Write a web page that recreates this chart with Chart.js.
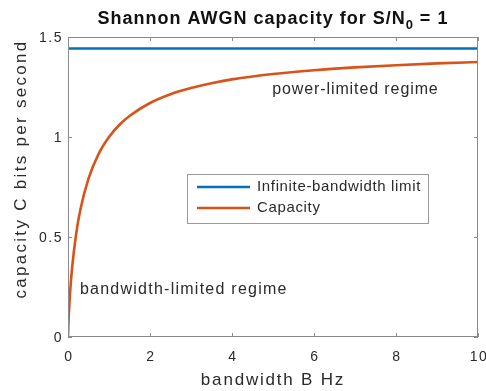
<!DOCTYPE html>
<html><head><meta charset="utf-8">
<script src="https://cdn.jsdelivr.net/npm/chart.js@4"></script>
<style>html,body{margin:0;padding:0;background:#fff;}#wrap{width:486px;height:391px;}</style>
</head><body><div id="wrap"><canvas id="c" width="486" height="391"></canvas></div>
<script>
const bandwidth = [0, 0.01, 0.02, 0.05, 0.1, 0.2, 0.3, 0.5, 0.75, 1, 1.25, 1.5, 2, 2.5, 3, 3.5, 4, 5, 6, 7, 8, 9, 10];
const capacity  = [0, 0.067, 0.113, 0.220, 0.346, 0.517, 0.635, 0.792, 0.917, 1.0, 1.060, 1.105, 1.170, 1.214, 1.245, 1.269, 1.288, 1.315, 1.334, 1.348, 1.359, 1.368, 1.375];
const limitX = [0, 10];
const limitY = [1.4427, 1.4427];
const xTicks = [0, 2, 4, 6, 8, 10];
const yTicks = [0, 0.5, 1, 1.5];
const xTickLabels = ['0', '2', '4', '6', '8', '10'];
const yTickLabels = ['0', '0.5', '1', '1.5'];
const seriesNames = ['Infinite-bandwidth limit', 'Capacity'];
const titleParts = ['Shannon AWGN capacity for S/N', '0', ' = 1'];
const xTitle = 'bandwidth B Hz';
const yTitle = 'capacity C bits per second';
const annotations = [
  {text: 'power-limited regime', x: 4.98, y: 1.235},
  {text: 'bandwidth-limited regime', x: 0.29, y: 0.235}
];
const FONT = '"Liberation Sans", Arial, Helvetica, sans-serif';
const BLUE = '#0072BD', ORANGE = '#D95319';
const TXT = '#2a2a2a';

const decor = {
  id: 'decor',
  afterDraw(chart) {
    const ctx = chart.ctx, a = chart.chartArea;
    const xs = chart.scales.x, ys = chart.scales.y;
    ctx.save();
    // box
    ctx.strokeStyle = '#8a8a8a'; ctx.lineWidth = 1;
    ctx.strokeRect(a.left + 0.5, a.top + 0.5, a.right - a.left - 1, a.bottom - a.top - 1);
    // inward ticks
    ctx.beginPath();
    xTicks.forEach(v => { const p = Math.round(xs.getPixelForValue(v)) + 0.5;
      ctx.moveTo(p, a.bottom); ctx.lineTo(p, a.bottom - 4);
      ctx.moveTo(p, a.top); ctx.lineTo(p, a.top + 4); });
    yTicks.forEach(v => { const p = Math.round(ys.getPixelForValue(v)) + 0.5;
      ctx.moveTo(a.left, p); ctx.lineTo(a.left + 4, p);
      ctx.moveTo(a.right, p); ctx.lineTo(a.right - 4, p); });
    ctx.stroke();
    // tick labels
    ctx.fillStyle = TXT;
    ctx.font = '14px ' + FONT; ctx.letterSpacing = '1.5px';
    ctx.textBaseline = 'middle'; ctx.textAlign = 'center';
    xTicks.forEach((v, i) => ctx.fillText(xTickLabels[i], xs.getPixelForValue(v) + 1, a.bottom + 20));
    ctx.textAlign = 'right';
    yTicks.forEach((v, i) => ctx.fillText(yTickLabels[i], a.left - 5, ys.getPixelForValue(v) + 1));
    // axis titles
    ctx.font = '17px ' + FONT; ctx.letterSpacing = '1.8px';
    ctx.textAlign = 'center';
    ctx.fillText(xTitle, (a.left + a.right) / 2, 380);
    ctx.save();
    ctx.letterSpacing = '2.3px';
    ctx.translate(21, 169);
    ctx.rotate(-Math.PI / 2);
    ctx.fillText(yTitle, 0, 0);
    ctx.restore();
    // title with subscript
    ctx.fillStyle = '#111';
    ctx.textBaseline = 'alphabetic'; ctx.textAlign = 'left'; ctx.letterSpacing = '1px';
    ctx.font = 'bold 18px ' + FONT; const w1 = ctx.measureText(titleParts[0]).width, w3 = ctx.measureText(titleParts[2]).width;
    ctx.font = 'bold 13px ' + FONT; const w2 = ctx.measureText(titleParts[1]).width;
    const x0 = (a.left + a.right) / 2 - (w1 + w2 + w3) / 2, by = 24;
    ctx.font = 'bold 18px ' + FONT; ctx.fillText(titleParts[0], x0, by);
    ctx.font = 'bold 13px ' + FONT; ctx.fillText(titleParts[1], x0 + w1, by + 5);
    ctx.font = 'bold 18px ' + FONT; ctx.fillText(titleParts[2], x0 + w1 + w2, by);
    // annotations
    ctx.font = '16px ' + FONT; ctx.fillStyle = TXT; ctx.textBaseline = 'middle';
    ctx.letterSpacing = '0.9px';
    ctx.fillText(annotations[0].text, xs.getPixelForValue(annotations[0].x), ys.getPixelForValue(annotations[0].y));
    ctx.letterSpacing = '1.25px';
    ctx.fillText(annotations[1].text, xs.getPixelForValue(annotations[1].x), ys.getPixelForValue(annotations[1].y));
    // legend
    const lx = 187, ly = 174, lw = 241, lh = 49;
    ctx.fillStyle = '#fff'; ctx.fillRect(lx, ly, lw, lh);
    ctx.strokeStyle = '#9a9a9a'; ctx.lineWidth = 1; ctx.strokeRect(lx + 0.5, ly + 0.5, lw, lh);
    chart.data.datasets.forEach((ds, i) => {
      const yy = ly + 13 + i * 21;
      ctx.strokeStyle = ds.borderColor; ctx.lineWidth = 2.5;
      ctx.beginPath(); ctx.moveTo(lx + 10, yy); ctx.lineTo(lx + 63, yy); ctx.stroke();
      ctx.fillStyle = TXT; ctx.font = '15px ' + FONT; ctx.letterSpacing = '0.65px'; ctx.textBaseline = 'middle';
      ctx.fillText(ds.label, lx + 70, yy);
    });
    ctx.restore();
  }
};

new Chart(document.getElementById('c'), {
  type: 'line',
  data: {
    datasets: [
      {label: seriesNames[0], data: limitX.map((x, i) => ({x, y: limitY[i]})), borderColor: BLUE, borderWidth: 2.6, pointRadius: 0, tension: 0},
      {label: seriesNames[1], data: bandwidth.map((x, i) => ({x, y: capacity[i]})), borderColor: ORANGE, borderWidth: 2.6, pointRadius: 0, cubicInterpolationMode: 'monotone'}
    ]
  },
  options: {
    responsive: false, animation: false, devicePixelRatio: 1,
    layout: {padding: {top: 37, right: 8, left: 0, bottom: 0}},
    plugins: {legend: {display: false}, title: {display: false}, tooltip: {enabled: false}},
    scales: {
      x: {type: 'linear', min: 0, max: 10,
        afterBuildTicks: s => { s.ticks = xTicks.map(v => ({value: v})); },
        afterFit: s => { s.height = 54; s.paddingLeft = 0; s.paddingRight = 0; },
        grid: {display: false, drawTicks: false}, border: {display: false},
        ticks: {display: false}},
      y: {type: 'linear', min: 0, max: 1.5,
        afterBuildTicks: s => { s.ticks = yTicks.map(v => ({value: v})); },
        afterFit: s => { s.width = 68; s.paddingTop = 0; s.paddingBottom = 0; },
        grid: {display: false, drawTicks: false}, border: {display: false},
        ticks: {display: false}}
    }
  },
  plugins: [decor]
});
</script></body></html>
